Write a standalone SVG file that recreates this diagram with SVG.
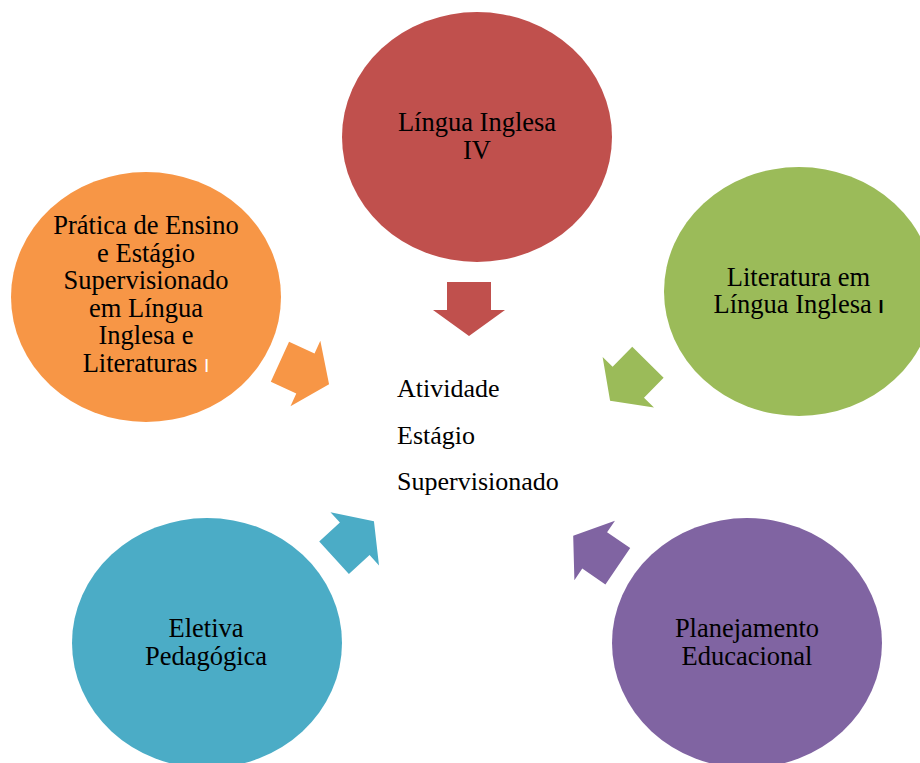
<svg xmlns="http://www.w3.org/2000/svg" width="920" height="763" viewBox="0 0 920 763">
<style>
.lbl{font-family:"Liberation Serif","Times New Roman",serif;font-size:26.5px;fill:#000;text-anchor:middle}
.ctr{font-family:"Liberation Serif","Times New Roman",serif;font-size:26px;fill:#000}
.bar{font-family:"Liberation Sans",Arial,sans-serif}
</style>
<defs>
<polygon id="arr" points="-27,-22 1,-22 1,-36 27,0 1,36 1,22 -27,22"/>
</defs>
<rect width="920" height="763" fill="#fff"/>
<g id="connectors">
<use href="#arr" fill="#C0504D" transform="translate(469,309) rotate(90)"/>
<use href="#arr" fill="#9BBB59" transform="translate(629,381.5) rotate(134.5)"/>
<use href="#arr" fill="#8064A2" transform="translate(595.5,551) rotate(-145.7)"/>
<use href="#arr" fill="#4BACC6" transform="translate(354,539.5) rotate(-42.4)"/>
<use href="#arr" fill="#F79646" transform="translate(304.5,373) rotate(24.5)"/>
</g>
<g id="node-red">
<ellipse cx="477" cy="137" rx="135" ry="125" fill="#C0504D"/>
<text class="lbl" x="477" y="131">Língua Inglesa</text>
<text class="lbl" x="477" y="159">IV</text>
</g>
<g id="node-green">
<ellipse cx="799" cy="291.5" rx="135" ry="124.5" fill="#9BBB59"/>
<text class="lbl" x="798.5" y="285.5">Literatura em</text>
<text class="lbl" x="798.5" y="313">Língua Inglesa <tspan class="bar" font-size="18" font-weight="bold">I</tspan></text>
</g>
<g id="node-purple">
<ellipse cx="747" cy="643" rx="135" ry="125" fill="#8064A2"/>
<text class="lbl" x="747" y="636.5">Planejamento</text>
<text class="lbl" x="747" y="664.5">Educacional</text>
</g>
<g id="node-teal">
<ellipse cx="207" cy="643" rx="135" ry="125" fill="#4BACC6"/>
<text class="lbl" x="206" y="636.5">Eletiva</text>
<text class="lbl" x="206" y="664.5">Pedagógica</text>
</g>
<g id="node-orange">
<ellipse cx="146" cy="297" rx="135" ry="125" fill="#F79646"/>
<text class="lbl" x="146" y="234">Prática de Ensino</text>
<text class="lbl" x="146" y="261.5">e Estágio</text>
<text class="lbl" x="146" y="289">Supervisionado</text>
<text class="lbl" x="146" y="316.5">em Língua</text>
<text class="lbl" x="146" y="344">Inglesa e</text>
<text class="lbl" x="146" y="371.5">Literaturas <tspan class="bar" font-size="19" fill="#fff">I</tspan></text>
</g>
<g id="center">
<text class="ctr" x="397" y="397">Atividade</text>
<text class="ctr" x="397" y="443.5">Estágio</text>
<text class="ctr" x="397" y="490">Supervisionado</text>
</g>
</svg>
